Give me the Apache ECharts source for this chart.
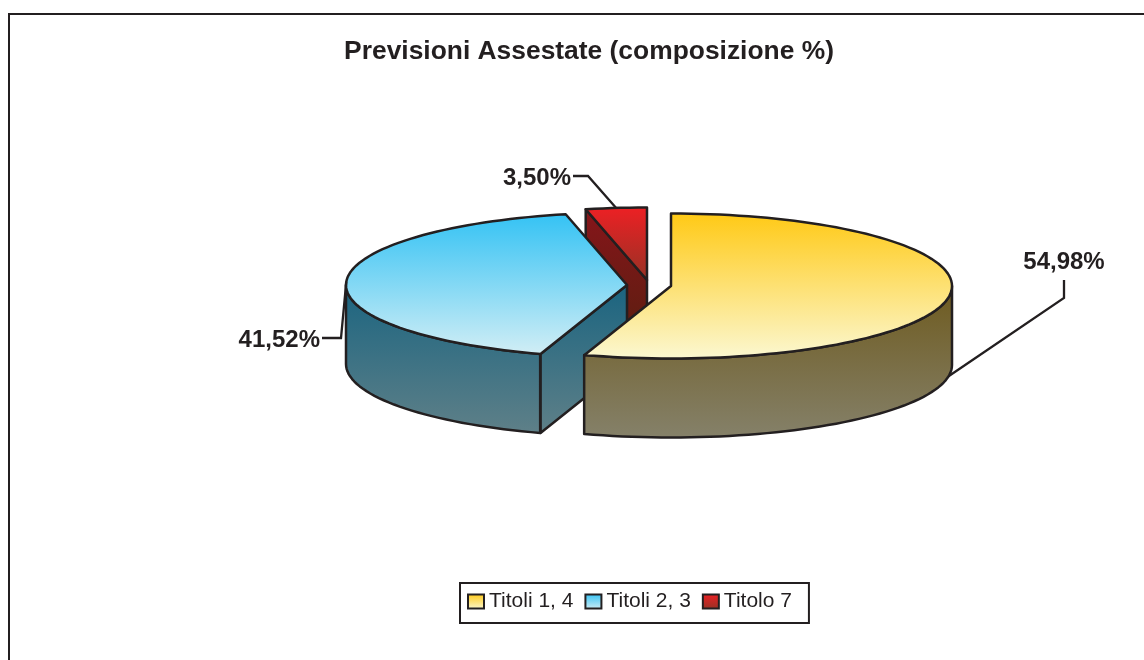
<!DOCTYPE html>
<html>
<head>
<meta charset="utf-8">
<style>
  html, body { margin: 0; padding: 0; background: #fff; }
  #main { width: 1144px; height: 660px; }
</style>
</head>
<body>
<div id="main"></div>
<script src="https://cdn.jsdelivr.net/npm/echarts@6/dist/echarts.min.js"></script>
<script>
var categories = ['Titoli 1, 4', 'Titoli 2, 3', 'Titolo 7'];
var shares = [54.98, 41.52, 3.50];
var shareLabels = ['54,98%', '41,52%', '3,50%'];
var titleText = 'Previsioni Assestate (composizione %)';

var INK = '#231f20';
var FONT = '"Liberation Sans", Arial, sans-serif';
var RX = 281, RY = 72.5, DEPTH = 79;

function grad(a, b) {
    return new echarts.graphic.LinearGradient(0, 0, 0, 1, [
        { offset: 0, color: a },
        { offset: 1, color: b }
    ]);
}

// one look per slice: where the exploded slice sits and how it is painted
var looks = [
    { cx: 671, cy: 286, top: ['#ffc914', '#fbf8d2'], wall: ['#6e5a1e', '#85816a'],
      wallFrom: 90, wallTo: 198, anchorOnWall: true, hasCut: false,
      elbow: [1064, 298], lineEnd: [1064, 280], text: [1064, 262], align: 'center' },
    { cx: 627, cy: 285, top: ['#33c2f4', '#d2eef5'], wall: ['#1a6480', '#5f8088'],
      wallFrom: 198, wallTo: 270, hasCut: true,
      elbow: [341, 338], lineEnd: [322, 338], text: [320, 340], align: 'right' },
    { cx: 647, cy: 280, top: ['#ee2024', '#963225'], wall: ['#86151a', '#55200f'],
      hasCut: true,
      elbow: [588, 176], lineEnd: [573, 176], text: [571, 178], align: 'right' }
];

function rim(look, deg, drop) {
    var r = deg * Math.PI / 180;
    return [look.cx + RX * Math.sin(r), look.cy - RY * Math.cos(r) + (drop || 0)];
}

function arc(look, from, to, drop) {
    var pts = [];
    var steps = Math.max(2, Math.ceil(Math.abs(to - from) / 2));
    for (var i = 0; i <= steps; i++) {
        pts.push(rim(look, from + (to - from) * i / steps, drop));
    }
    return pts;
}

function poly(points, fill) {
    return {
        type: 'polygon',
        shape: { points: points },
        style: { fill: fill, stroke: INK, lineWidth: 2.5, lineJoin: 'round' }
    };
}

function sliceRenderer(index) {
    return function (params, api) {
        var total = shares.reduce(function (s, v) { return s + v; }, 0);
        var before = shares.slice(0, index).reduce(function (s, v) { return s + v; }, 0);
        var a0 = before / total * 360;
        var a1 = (before + api.value(0)) / total * 360;
        var look = looks[index];
        var centre = [look.cx, look.cy];
        var children = [];

        // cut face, the side of the slice that looks at the viewer
        if (look.hasCut) {
            children.push(poly([
                centre, rim(look, a0), rim(look, a0, DEPTH), [look.cx, look.cy + DEPTH]
            ], grad(look.wall[0], look.wall[1])));
        }
        // outer wall
        if (look.wallFrom !== undefined) {
            var wallTop = arc(look, look.wallFrom, look.wallTo);
            var wallBottom = arc(look, look.wallTo, look.wallFrom, DEPTH);
            children.push(poly(wallTop.concat(wallBottom), grad(look.wall[0], look.wall[1])));
        }
        // top face
        children.push(poly([centre].concat(arc(look, a0, a1)), grad(look.top[0], look.top[1])));

        // leader line and label
        var anchor = rim(look, (a0 + a1) / 2, look.anchorOnWall ? DEPTH : 0);
        children.push({
            type: 'polyline',
            shape: { points: [anchor, look.elbow, look.lineEnd] },
            style: { fill: null, stroke: INK, lineWidth: 2.3 }
        });
        children.push({
            type: 'text',
            x: look.text[0],
            y: look.text[1],
            style: {
                text: shareLabels[index],
                fill: INK,
                font: 'bold 24px ' + FONT,
                align: look.align,
                verticalAlign: 'middle'
            }
        });
        return { type: 'group', children: children };
    };
}

// back to front: red, blue, yellow
var series = [2, 1, 0].map(function (i) {
    return {
        name: categories[i],
        type: 'custom',
        coordinateSystem: 'none',
        silent: true,
        animation: false,
        data: [shares[i]],
        renderItem: sliceRenderer(i)
    };
});

var myecharts = echarts.init(document.getElementById('main'));

var option = {
    backgroundColor: '#fff',
    animation: false,
    title: {
        text: titleText,
        left: 584,
        top: 34,
        textAlign: 'center',
        textStyle: { color: INK, fontFamily: FONT, fontSize: 26.4, fontWeight: 'bold' }
    },
    legend: {
        left: 460,
        top: 583,
        orient: 'horizontal',
        icon: 'rect',
        selectedMode: false,
        itemWidth: 16,
        itemHeight: 14,
        itemGap: 11,
        padding: [8, 17, 11, 7],
        borderColor: INK,
        borderWidth: 2,
        textStyle: { color: INK, fontFamily: FONT, fontSize: 21 },
        data: categories.map(function (name, i) {
            return {
                name: name,
                itemStyle: {
                    color: grad(looks[i].top[0], looks[i].top[1]),
                    borderColor: INK,
                    borderWidth: 2
                }
            };
        })
    },
    graphic: [{
        type: 'polyline',
        silent: true,
        z: -1,
        shape: { points: [[9, 660], [9, 14], [1144, 14]] },
        style: { fill: null, stroke: INK, lineWidth: 2 }
    }],
    series: series
};

myecharts.setOption(option);
</script>
</body>
</html>
